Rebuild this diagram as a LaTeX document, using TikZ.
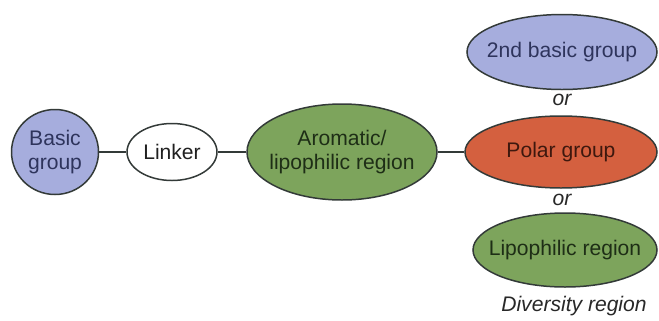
\documentclass[tikz,border=0pt]{standalone}
\usepackage{fontspec}
\setmainfont{Liberation Sans}
\usetikzlibrary{shapes.geometric}
\definecolor{bluefill}{HTML}{A6ADDD}
\definecolor{greenfill}{HTML}{7DA45C}
\definecolor{redfill}{HTML}{D4603F}
\definecolor{rim}{HTML}{333A38}
\begin{document}
\begin{tikzpicture}[
    region/.style={ellipse, draw=rim, line width=0.85pt, inner xsep=-0.5cm, inner ysep=0pt, align=center, font=\fontsize{12}{13.5}\selectfont},
    basic/.style={region, fill=bluefill, text={rgb,255:red,46;green,52;blue,92}},
    lipo/.style={region, fill=greenfill, text={rgb,255:red,30;green,46;blue,22}},
    polar/.style={region, fill=redfill, text={rgb,255:red,62;green,24;blue,14}},
    link/.style={draw=rim, line width=0.9pt},
    note/.style={font=\fontsize{12}{13.5}\selectfont\itshape, text={rgb,255:red,40;green,40;blue,40}}
]
\useasboundingbox (0,0) rectangle (13.18,-6.4);
\node[basic, minimum width=1.74cm, minimum height=1.70cm] (base) at (1.10,-3.04) {Basic\\group};
\node[region, fill=white, text={rgb,255:red,32;green,32;blue,32}, minimum width=1.80cm, minimum height=1.14cm] (linker) at (3.44,-3.04) {Linker};
\node[lipo, minimum width=3.80cm, minimum height=1.92cm] (arom) at (6.84,-3.04) {Aromatic/\\lipophilic region};
\node[basic, minimum width=3.80cm, minimum height=1.50cm] (base2) at (11.24,-1.04) {2nd basic group};
\node[polar, minimum width=3.84cm, minimum height=1.44cm] (polar) at (11.22,-3.04) {Polar group};
\node[lipo, minimum width=3.68cm, minimum height=1.48cm] (lipo) at (11.30,-5.0) {Lipophilic region};
\node[note] (or1) at (11.24,-2.0) {or};
\node[note] (or2) at (11.24,-4.0) {or};
\node[note] (div) at (11.48,-6.12) {Diversity region};
\draw[link] (base) -- (linker);
\draw[link] (linker) -- (arom);
\draw[link] (arom) -- (polar);
\end{tikzpicture}
\end{document}
